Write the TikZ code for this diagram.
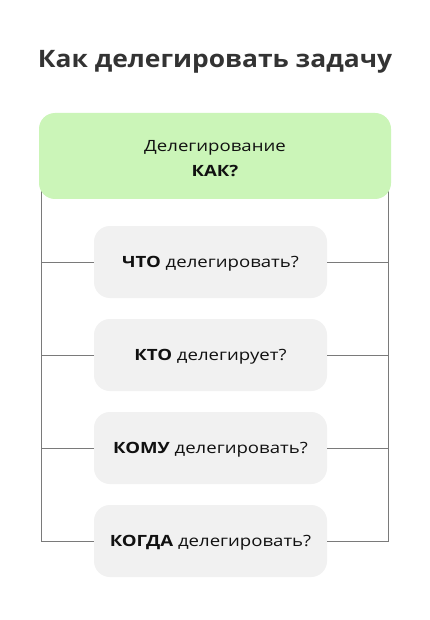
\documentclass[tikz,border=0pt]{standalone}
\usepackage{fontspec}
\setmainfont{Open Sans}[FakeStretch=1.1]
\newfontfamily\bodyfont{Open Sans}[FakeStretch=1.2]
\begin{document}
\begin{tikzpicture}[x=1pt,y=-1pt,
  topbox/.style={fill=topgreen,rounded corners=16pt,minimum width=352pt,minimum height=86pt,inner sep=0pt},
  toptext/.style={align=center,inner sep=0pt,font=\bodyfont\fontsize{15.5}{25}\selectfont,text=textblack},
  qbox/.style={fill=boxgray,rounded corners=16pt,minimum width=233pt,minimum height=72pt,inner sep=0pt,text height=11pt,text depth=0pt,font=\bodyfont\fontsize{15.5}{18}\selectfont,text=textblack},
  conn/.style={draw=linegray,line width=0.9pt}]
\definecolor{topgreen}{HTML}{CBF5B8}
\definecolor{boxgray}{HTML}{F1F1F1}
\definecolor{linegray}{HTML}{7A7A7A}
\definecolor{titlegray}{HTML}{333333}
\definecolor{textblack}{HTML}{111111}
\useasboundingbox (0,0) rectangle (430,620);
\fill[white] (0,0) rectangle (430,620);
\node[font=\bfseries\fontsize{24}{28}\selectfont,text=titlegray] (title) at (215,62) {Как делегировать задачу};
\coordinate (L) at (41,0);
\coordinate (R) at (388,0);
\node[qbox] (b1) at (210.5,262) {\textbf{ЧТО} делегировать?};
\node[qbox] (b2) at (210.5,355) {\textbf{КТО} делегирует?};
\node[qbox] (b3) at (210.5,448) {\textbf{КОМУ} делегировать?};
\node[qbox] (b4) at (210.5,541) {\textbf{КОГДА} делегировать?};
\draw[conn] (b4.west) -| (L |- 0,190);
\draw[conn] (b4.east) -| (R |- 0,190);
\foreach \b in {b1,b2,b3}{
  \draw[conn] (\b.west) -- (\b.west -| L);
  \draw[conn] (\b.east) -- (\b.east -| R);
}
\node[topbox] (top) at (215,156) {};
\node[toptext] (toplabel) at (215,159) {Делегирование\\\textbf{КАК?}};
\end{tikzpicture}
\end{document}
